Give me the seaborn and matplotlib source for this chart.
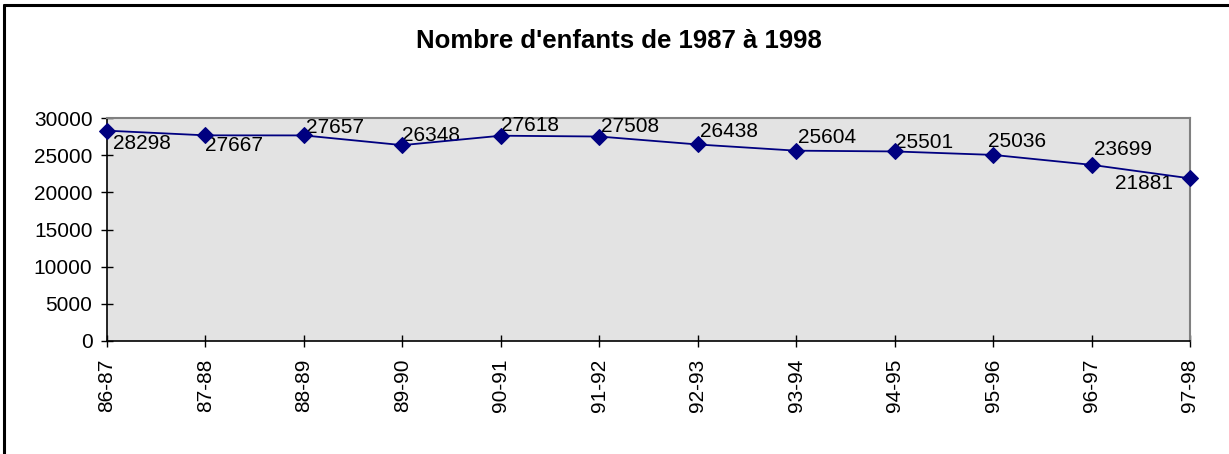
import matplotlib
matplotlib.use("Agg")
import matplotlib.pyplot as plt
import seaborn as sns
import pandas as pd

# Données : nombre d'enfants par année scolaire
annees = ["86-87", "87-88", "88-89", "89-90", "90-91", "91-92",
          "92-93", "93-94", "94-95", "95-96", "96-97", "97-98"]
enfants = [28298, 27667, 27657, 26348, 27618, 27508,
           26438, 25604, 25501, 25036, 23699, 21881]

# décalage des étiquettes (pixels) comme dans Excel
label_dx = [6, 0, 2, 0, 0, 2, 2, 2, 0, -5, 2, -75]
label_dy = [-13, -10, 8, 10, 10, 10, 13, 13, 9, 13, 15, -5]

df = pd.DataFrame({"annee": annees, "enfants": enfants})
df["pos"] = range(len(df))

sns.set_style("white")
plt.rcParams["font.family"] = ["Liberation Sans", "DejaVu Sans"]
plt.rcParams["text.color"] = "black"

fig = plt.figure(figsize=(12.29, 4.54), dpi=100)
ax = fig.add_axes([107 / 1229, 1 - 341 / 454, (1190 - 107) / 1229, (341 - 118) / 454])

sns.lineplot(data=df, x="pos", y="enfants", ax=ax, color="#000080",
             marker="D", markersize=8, markeredgecolor="#000080", linewidth=1.3,
             clip_on=False, zorder=5)

for i, v in enumerate(enfants):
    ax.annotate(str(v), (i, v), xytext=(label_dx[i] * 0.72, label_dy[i] * 0.72),
                textcoords="offset points", ha="left", va="center", fontsize=15,
                color="black", annotation_clip=False)

ax.set_facecolor("#e3e3e3")
ax.set_xlim(0, len(annees) - 1)
ax.set_ylim(0, 30000)
ax.set_yticks(range(0, 30001, 5000))
ax.set_xticks(range(len(annees)))
ax.set_xticklabels(annees, rotation=90)
ax.set_xlabel("")
ax.set_ylabel("")
ax.tick_params(axis="both", labelsize=15, colors="black", labelcolor="black",
               direction="inout", length=9, width=1)
ax.tick_params(axis="x", pad=8)
ax.tick_params(axis="y", pad=6)
ax.yaxis.set_tick_params(left=True)
ax.xaxis.set_tick_params(bottom=True)

for side in ["left", "bottom"]:
    ax.spines[side].set_color("black")
    ax.spines[side].set_linewidth(1.2)
for side in ["top", "right"]:
    ax.spines[side].set_visible(True)
    ax.spines[side].set_color("#808080")
    ax.spines[side].set_linewidth(1.5)

fig.text(619 / 1229, 1 - 41 / 454, "Nombre d'enfants de 1987 à 1998",
         ha="center", va="center", fontsize=18.5, fontweight="bold", color="black")

# cadre du graphique (haut et gauche visibles)
fig.add_artist(plt.Line2D([4 / 1229, 1], [1 - 5 / 454, 1 - 5 / 454], color="black", linewidth=2.2))
fig.add_artist(plt.Line2D([4 / 1229, 4 / 1229], [0, 1 - 5 / 454], color="black", linewidth=2.2))

fig.savefig("out.png", dpi=100)
